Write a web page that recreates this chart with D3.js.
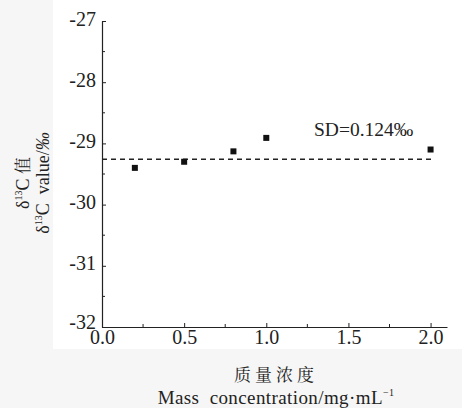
<!DOCTYPE html>
<html><head><meta charset="utf-8">
<script src="https://cdn.jsdelivr.net/npm/d3@7"></script>
<style>body{margin:0;background:#f6f6f6;} svg{display:block;}</style>
</head><body>
<svg id="c" width="462" height="408"></svg>
<script>
const concentrations = [0.2, 0.5, 0.8, 1.0, 2.0];
const delta13C = [-29.40, -29.30, -29.13, -28.91, -29.10];
const meanLine = [-29.26];
const yTicks = [-32, -31, -30, -29, -28, -27];
const xTicks = [0.0, 0.5, 1.0, 1.5, 2.0];
const sdLabel = "SD=0.124‰";

const svg = d3.select("#c");
const serif = "Liberation Serif";
const cjk = "Noto Serif CJK SC";
svg.append("rect").attr("x",53).attr("y",0).attr("width",409).attr("height",349).attr("fill","#fff");

const x = d3.scaleLinear().domain([0, 2.1]).range([102, 447]);
const y = d3.scaleLinear().domain([-32, -27]).range([327, 21]);

const g = svg.append("g");
const yMinor = d3.range(-31.5, -27, 1);
g.selectAll(".ym").data(yMinor).enter().append("line")
  .attr("x1", x(0)).attr("x2", x(0)+3).attr("y1", d=>y(d)).attr("y2", d=>y(d)).attr("stroke","#222").attr("stroke-width",1);
const xMinor = [0.25,0.75,1.25,1.75];
g.selectAll(".xm").data(xMinor).enter().append("line")
  .attr("x1", d=>x(d)).attr("x2", d=>x(d)).attr("y1", y(-32)).attr("y2", y(-32)-3).attr("stroke","#222").attr("stroke-width",1);

const yAxis = d3.axisLeft(y).tickValues(yTicks).tickFormat(d=>String(d)).tickSizeInner(-4).tickSizeOuter(0).tickPadding(6);
const ya = svg.append("g").attr("transform",`translate(${x(0)},0)`).call(yAxis);
ya.attr("font-family", serif).attr("font-size", 20);
ya.select(".domain").attr("stroke","#222").attr("stroke-width",1.2);
ya.selectAll(".tick line").attr("stroke","#222");
ya.selectAll("text").attr("fill","#222").attr("dy","0.2em")
  .attr("transform", d => d === -32 ? "translate(0,-3)" : null);

const xAxis = d3.axisBottom(x).tickValues(xTicks).tickFormat(d3.format(".1f")).tickSizeInner(-4).tickSizeOuter(0).tickPadding(2);
const xa = svg.append("g").attr("transform",`translate(0,${y(-32)})`).call(xAxis);
xa.attr("font-family", serif).attr("font-size", 20);
xa.select(".domain").attr("stroke","#222").attr("stroke-width",1.2);
xa.selectAll(".tick line").attr("stroke","#222");
xa.selectAll("text").attr("fill","#222").attr("dy","0.75em");

svg.selectAll(".mean").data(meanLine).enter().append("line")
  .attr("x1", x(0)).attr("x2", x(2.02)).attr("y1", d=>y(d)).attr("y2", d=>y(d))
  .attr("stroke","#222").attr("stroke-width",1.5).attr("stroke-dasharray","5,4");

svg.selectAll(".pt").data(concentrations).enter().append("rect")
  .attr("x", d=>x(d)-3).attr("y", (d,i)=>y(delta13C[i])-3).attr("width",6).attr("height",6).attr("fill","#111");

svg.append("text").attr("x",314).attr("y",136).attr("font-family",serif).attr("font-size",19.5).attr("fill","#222").text(sdLabel);

const yl = svg.append("g").attr("transform","translate(0,183) rotate(-90)");
const t1 = yl.append("text").attr("x",0).attr("y",29).attr("text-anchor","middle").attr("font-family",serif).attr("font-size",18).attr("fill","#222");
t1.append("tspan").text("δ");
t1.append("tspan").attr("font-size",10).attr("dy",-7).text("13");
t1.append("tspan").attr("dy",7).text("C ");
t1.append("tspan").attr("font-family",cjk).attr("font-size",17).text("值");
const t2 = yl.append("text").attr("x",0).attr("y",49).attr("text-anchor","middle").attr("font-family",serif).attr("font-size",18).attr("fill","#222").attr("xml:space","preserve");
t2.append("tspan").text("δ");
t2.append("tspan").attr("font-size",10).attr("dy",-7).text("13");
t2.append("tspan").attr("dy",7).text("C  value/");
t2.append("tspan").attr("font-style","italic").text("‰");

svg.append("text").attr("x",276).attr("y",381).attr("text-anchor","middle").attr("font-family",cjk).attr("font-size",17).attr("fill","#222").attr("letter-spacing","4").text("质量浓度");
const xl = svg.append("text").attr("x",276).attr("y",404).attr("text-anchor","middle").attr("font-family",serif).attr("font-size",19).attr("fill","#222").attr("letter-spacing","0.4").attr("xml:space","preserve");
xl.append("tspan").text("Mass  concentration/mg·mL");
xl.append("tspan").attr("font-size",10).attr("dy",-8).text("−1");
</script>
</body></html>
